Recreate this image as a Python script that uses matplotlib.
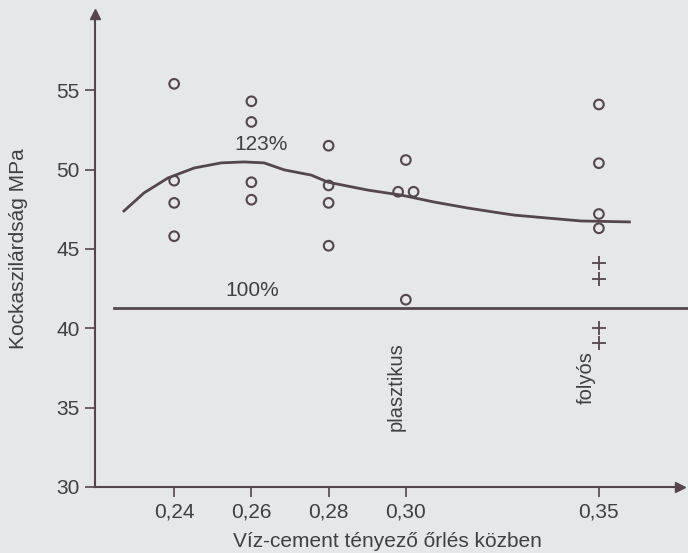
import matplotlib.pyplot as plt

# data
vc_ratio = [0.24, 0.24, 0.24, 0.24,
            0.26, 0.26, 0.26, 0.26,
            0.28, 0.28, 0.28, 0.28,
            0.30, 0.298, 0.302, 0.30,
            0.35, 0.35, 0.35, 0.35]
strength = [55.4, 49.3, 47.9, 45.8,
            54.3, 53.0, 49.2, 48.1,
            51.5, 49.0, 47.9, 45.2,
            50.6, 48.6, 48.6, 41.8,
            54.1, 50.4, 47.2, 46.3]

cross_x = [0.35, 0.35, 0.35, 0.35]
cross_y = [44.1, 43.1, 40.0, 39.1]

curve_x = [0.2270, 0.2322, 0.2384, 0.2452, 0.2522, 0.2581, 0.2633, 0.2685,
           0.2755, 0.2799, 0.2903, 0.2988, 0.3074, 0.3162, 0.3247, 0.3281,
           0.3369, 0.3454, 0.3579]
curve_y = [47.39, 48.53, 49.47, 50.10, 50.42, 50.48, 50.42, 49.98,
           49.65, 49.20, 48.70, 48.39, 47.95, 47.57, 47.25, 47.13,
           46.94, 46.76, 46.70]

ref_x = [0.2245, 0.40]
ref_y = [41.3, 41.3]

xticks = [0.24, 0.26, 0.28, 0.30, 0.35]
xlabels = ['0,24', '0,26', '0,28', '0,30', '0,35']
yticks = [30, 35, 40, 45, 50, 55]

bg = '#e5e7eb'
ink = '#54464c'
txt = '#404040'

plt.rcParams['font.family'] = ['Liberation Sans', 'DejaVu Sans']

fig = plt.figure(figsize=(6.88, 5.53), dpi=100, facecolor=bg)
ax = fig.add_axes([95/688, 1 - 487/553, (680 - 95)/688, (487 - 14)/553])
ax.set_facecolor(bg)

ax.plot(curve_x, curve_y, color=ink, lw=2, solid_joinstyle='round')
ax.plot(ref_x, ref_y, color=ink, lw=2, clip_on=False)
ax.scatter(vc_ratio, strength, s=48, facecolors='none', edgecolors=ink, linewidths=1.5, zorder=3)
ax.scatter(cross_x, cross_y, s=100, marker='+', color=ink, linewidths=1.3, zorder=3)

ax.text(0.2625, 51.6, '123%', fontsize=15, color=txt, ha='center', va='center')
ax.text(0.2602, 42.4, '100%', fontsize=15, color=txt, ha='center', va='center')
ax.text(0.2975, 36.3, 'plasztikus', fontsize=14.5, color=txt, rotation=90, ha='center', va='center')
ax.text(0.3467, 36.9, 'folyós', fontsize=14.5, color=txt, rotation=90, ha='center', va='center')

ax.set_xlim(0.2195, 0.371)
ax.set_ylim(30, 59.8)
ax.set_xticks(xticks)
ax.set_xticklabels(xlabels)
ax.set_yticks(yticks)
ax.tick_params(direction='out', length=7, width=1.2, color=ink, labelcolor=txt, labelsize=15, pad=4)

for s in ['top', 'right']:
    ax.spines[s].set_visible(False)
for s in ['left', 'bottom']:
    ax.spines[s].set_color(ink)
    ax.spines[s].set_linewidth(1.5)

# arrow heads on the axes
ax.plot(1, 0, '>', color=ink, ms=7, transform=ax.transAxes, clip_on=False)
ax.plot(0, 1, '^', color=ink, ms=7, transform=ax.transAxes, clip_on=False)

ax.set_xlabel('Víz-cement tényező őrlés közben', fontsize=15, color=txt, labelpad=8)
ax.set_ylabel('Kockaszilárdság MPa', fontsize=15, color=txt)
ax.yaxis.set_label_coords(-0.115, 0.505)

fig.savefig('out.png', dpi=100, facecolor=bg)
